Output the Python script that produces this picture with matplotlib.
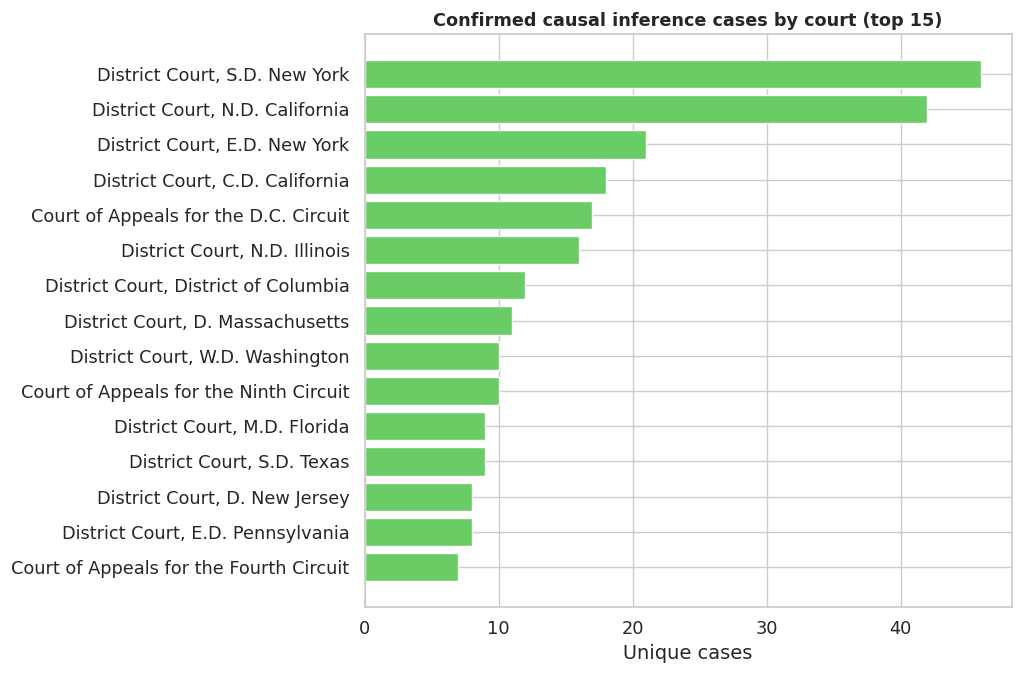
import matplotlib
matplotlib.use("Agg")
import matplotlib.pyplot as plt
import seaborn as sns

courts = [
    "District Court, S.D. New York",
    "District Court, N.D. California",
    "District Court, E.D. New York",
    "District Court, C.D. California",
    "Court of Appeals for the D.C. Circuit",
    "District Court, N.D. Illinois",
    "District Court, District of Columbia",
    "District Court, D. Massachusetts",
    "District Court, W.D. Washington",
    "Court of Appeals for the Ninth Circuit",
    "District Court, M.D. Florida",
    "District Court, S.D. Texas",
    "District Court, D. New Jersey",
    "District Court, E.D. Pennsylvania",
    "Court of Appeals for the Fourth Circuit",
]
cases = [46, 42, 21, 18, 17, 16, 12, 11, 10, 10, 9, 9, 8, 8, 7]

sns.set_theme(style="whitegrid", font_scale=1.16)

fig, ax = plt.subplots(figsize=(10.24, 6.77), dpi=100)
ax.barh(courts[::-1], cases[::-1], color="#6ACC64")
ax.set_xlabel("Unique cases")
ax.set_title("Confirmed causal inference cases by court (top 15)",
             fontsize=12.7, fontweight="bold")
ax.tick_params(axis="y", pad=4.8)
fig.subplots_adjust(left=0.356, right=0.988, top=0.95, bottom=0.103)
fig.savefig("out.png")
